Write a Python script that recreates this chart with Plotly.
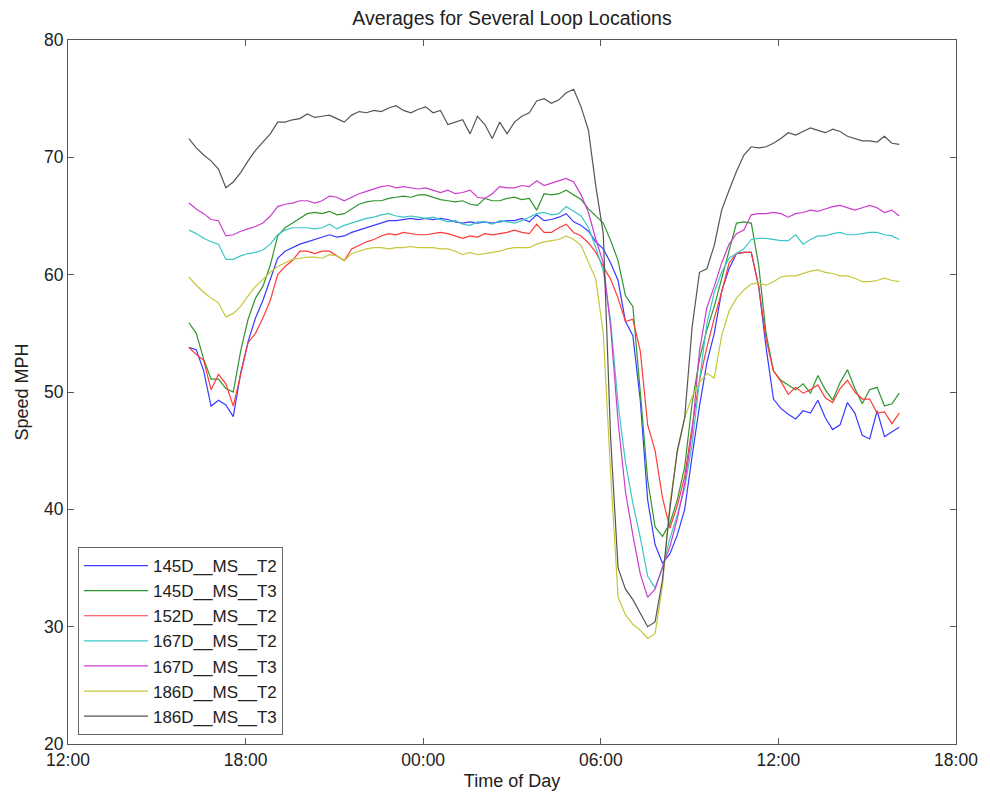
import pandas as pd
import plotly.graph_objects as go

# 15-minute samples starting 16:05 (day 1) through 16:05 (day 2)
times = pd.date_range("2000-01-01 16:05", periods=97, freq="15min")

series_names = ["145D__MS__T2", "145D__MS__T3", "152D__MS__T2", "167D__MS__T2",
                "167D__MS__T3", "186D__MS__T2", "186D__MS__T3"]

s145_T2 = [
    53.8, 53.6, 51.8, 48.8, 49.3, 48.9, 47.9, 51.6, 54.3, 56.3,
    57.8, 59.7, 61.4, 62.0, 62.3, 62.6, 62.8, 63.0, 63.2, 63.4,
    63.2, 63.3, 63.6, 63.8, 64.0, 64.2, 64.4, 64.6, 64.6, 64.7,
    64.8, 64.7, 64.8, 64.7, 64.8, 64.7, 64.5, 64.4, 64.5, 64.4,
    64.5, 64.4, 64.5, 64.6, 64.6, 64.8, 64.5, 65.1, 64.6, 64.7,
    64.9, 65.2, 64.5, 64.2, 63.7, 62.8, 62.2, 61.0, 59.5, 56.0,
    54.8, 49.3, 40.8, 37.0, 35.4, 36.2, 37.8, 40.0, 44.5, 48.8,
    52.5, 55.0, 58.6, 60.5, 61.8, 61.9, 61.9, 59.0, 53.8, 49.4,
    48.6, 48.1, 47.7, 48.4, 48.2, 49.3, 47.8, 46.8, 47.2, 49.1,
    48.2, 46.3, 46.0, 48.4, 46.2, 46.6, 47.0]

s145_T3 = [
    55.9, 55.0, 52.8, 51.1, 51.1, 50.3, 50.0, 53.5, 56.2, 58.0,
    59.0, 60.8, 63.3, 64.0, 64.4, 64.8, 65.2, 65.3, 65.2, 65.4,
    65.1, 65.2, 65.6, 66.0, 66.2, 66.3, 66.3, 66.5, 66.6, 66.7,
    66.6, 66.8, 66.8, 66.6, 66.4, 66.3, 66.2, 66.3, 66.0, 65.9,
    66.5, 66.3, 66.3, 66.5, 66.6, 66.4, 66.5, 65.5, 66.9, 66.8,
    66.9, 67.2, 66.8, 66.4, 65.6, 65.0, 64.4, 62.9, 61.2, 58.2,
    57.3, 50.0, 42.5, 38.5, 37.7, 38.8, 40.8, 43.6, 49.0, 52.8,
    55.3, 57.3, 59.7, 62.0, 64.4, 64.5, 64.4, 60.8, 55.0, 51.8,
    51.0, 50.6, 50.2, 50.7, 49.9, 51.4, 50.2, 49.3, 50.8, 51.9,
    50.3, 49.0, 50.2, 50.4, 48.8, 49.0, 49.9]

s152_T2 = [
    53.8, 53.2, 52.7, 50.2, 51.5, 50.7, 48.8, 51.6, 54.2, 55.0,
    56.3, 57.8, 60.0, 60.7, 61.2, 62.0, 62.0, 61.8, 62.0, 62.0,
    61.6, 61.2, 62.2, 62.5, 62.8, 63.0, 63.3, 63.5, 63.4, 63.6,
    63.5, 63.4, 63.4, 63.5, 63.6, 63.5, 63.3, 63.1, 63.3, 63.2,
    63.5, 63.4, 63.5, 63.6, 63.8, 63.6, 63.5, 64.3, 63.6, 63.6,
    64.0, 64.3, 63.6, 63.3, 62.7, 61.9, 60.7, 59.6, 58.0, 56.0,
    56.2, 53.5, 47.2, 45.0, 41.0, 38.4, 40.3, 42.8, 47.0, 51.0,
    53.8, 56.3, 58.5, 61.0, 61.8, 61.9, 61.9, 59.0, 54.5, 51.8,
    50.9, 49.8, 50.4, 49.9, 50.2, 50.6, 49.5, 49.1, 50.3, 51.0,
    50.0, 49.4, 49.4, 48.2, 48.3, 47.3, 48.2]

s167_T2 = [
    63.8, 63.5, 63.1, 62.8, 62.6, 61.3, 61.3, 61.6, 61.8, 61.9,
    62.1, 62.6, 63.4, 63.8, 64.0, 64.0, 64.0, 63.9, 64.0, 64.3,
    63.9, 64.2, 64.4, 64.6, 64.8, 64.9, 65.1, 65.2, 65.0, 64.9,
    65.0, 64.9, 64.8, 64.9, 64.7, 64.5, 64.6, 64.3, 64.2, 64.5,
    64.5, 64.3, 64.6, 64.5, 64.4, 64.6, 64.9, 65.2, 65.3, 65.1,
    65.2, 65.8, 65.4, 65.0, 64.0, 62.3, 60.3, 56.0, 49.0, 44.0,
    40.5, 37.6, 34.3, 33.3, 35.0, 37.5, 39.5, 41.8, 45.5, 51.0,
    55.8, 58.5, 60.2, 61.4, 61.8, 62.2, 63.0, 63.1, 63.1, 63.0,
    62.9, 62.9, 63.4, 62.6, 63.0, 63.3, 63.3, 63.5, 63.6, 63.4,
    63.4, 63.5, 63.6, 63.6, 63.4, 63.3, 63.0]

s167_T3 = [
    66.1, 65.6, 65.2, 64.7, 64.6, 63.3, 63.4, 63.7, 63.9, 64.1,
    64.4, 65.0, 65.8, 66.0, 66.1, 66.3, 66.3, 66.1, 66.3, 66.7,
    66.6, 66.3, 66.6, 66.9, 67.1, 67.3, 67.5, 67.6, 67.4, 67.5,
    67.4, 67.3, 67.4, 67.2, 67.0, 67.2, 66.9, 67.0, 67.2, 66.6,
    66.5, 66.9, 67.5, 67.4, 67.4, 67.6, 67.5, 68.0, 67.6, 67.8,
    68.0, 68.2, 67.9, 66.8, 65.3, 63.0, 61.0, 55.5, 47.5, 41.5,
    37.8, 34.5, 32.5, 33.2, 35.1, 36.8, 39.2, 42.2, 46.5, 53.5,
    57.2, 59.0, 61.0, 62.6, 63.5, 63.8, 65.1, 65.2, 65.2, 65.3,
    65.2, 64.9, 65.2, 65.3, 65.5, 65.4, 65.6, 65.8, 65.9, 65.7,
    65.5, 65.7, 65.9, 65.7, 65.3, 65.5, 65.0]

s186_T2 = [
    59.8, 59.1, 58.5, 58.0, 57.6, 56.4, 56.7, 57.3, 58.2, 59.0,
    59.6, 60.2, 60.7, 61.0, 61.3, 61.4, 61.5, 61.5, 61.4, 61.7,
    61.6, 61.2, 61.8, 62.0, 62.2, 62.3, 62.3, 62.2, 62.3, 62.3,
    62.4, 62.3, 62.3, 62.3, 62.2, 62.2, 62.0, 61.7, 61.9, 61.7,
    61.8, 61.9, 62.0, 62.2, 62.3, 62.3, 62.3, 62.6, 62.8, 62.9,
    63.0, 63.3, 63.0, 62.5, 61.0, 59.6, 55.0, 43.0, 32.5, 31.0,
    30.2, 29.7, 29.0, 29.4, 33.5, 40.5, 44.8, 47.8, 49.6, 50.8,
    51.6, 51.2, 54.8, 56.9, 58.0, 58.7, 59.2, 59.3, 59.1, 59.4,
    59.8, 59.9, 59.9, 60.1, 60.3, 60.4, 60.2, 60.1, 59.9, 59.9,
    59.7, 59.4, 59.4, 59.5, 59.7, 59.5, 59.4]

s186_T3 = [
    71.6, 70.8, 70.2, 69.7, 69.0, 67.4, 67.9, 68.7, 69.7, 70.6,
    71.3, 72.0, 73.0, 73.0, 73.2, 73.3, 73.7, 73.4, 73.5, 73.6,
    73.3, 73.0, 73.6, 73.9, 73.8, 74.0, 73.9, 74.2, 74.4, 74.0,
    73.8, 74.1, 74.3, 73.8, 74.0, 72.8, 73.0, 73.2, 72.0, 73.5,
    72.8, 71.6, 73.0, 72.0, 73.0, 73.5, 73.8, 74.8, 75.0, 74.6,
    74.9, 75.5, 75.8, 74.3, 72.3, 67.5, 63.5, 46.0, 35.0, 33.2,
    32.3, 31.2, 30.0, 30.4, 34.0, 40.0, 45.0, 47.8, 55.5, 60.2,
    60.5, 62.5, 65.5, 67.2, 68.8, 70.2, 70.9, 70.8, 70.9, 71.2,
    71.6, 72.1, 71.9, 72.2, 72.5, 72.3, 72.1, 72.4, 72.2, 71.8,
    71.6, 71.4, 71.4, 71.3, 71.8, 71.2, 71.1]

series_values = [s145_T2, s145_T3, s152_T2, s167_T2, s167_T3, s186_T2, s186_T3]
series_colors = ["#3a3aff", "#2f952f", "#ff3a3a", "#3cc6c6", "#cc3ccc", "#c6c63a", "#555555"]

y_ticks = [20, 30, 40, 50, 60, 70, 80]

FONT = "Liberation Sans, Arial, Helvetica, sans-serif"
W, H = 982, 793  # page body adds an 8px offset

fig = go.Figure()
for name, vals, col in zip(series_names, series_values, series_colors):
    fig.add_trace(go.Scatter(x=times, y=vals, mode="lines", name=name,
                             line=dict(color=col, width=1.2)))

fig.update_layout(
    width=W, height=H,
    margin=dict(l=60, r=30, t=32, b=57),
    paper_bgcolor="white", plot_bgcolor="white",
    font=dict(family=FONT, size=18, color="#222"),
    title=dict(text="Averages for Several Loop Locations", x=0.5, xref="paper",
               y=1 - 10 / H, yref="container", yanchor="middle",
               font=dict(size=19.5, family=FONT, color="#222")),
    showlegend=True,
    legend=dict(x=0.0112, y=0.0128, xanchor="left", yanchor="bottom",
                bgcolor="white", bordercolor="#666", borderwidth=1,
                font=dict(size=17, family=FONT, color="#222"),
                itemwidth=64, tracegroupgap=0),
)

fig.update_xaxes(
    type="date",
    range=["2000-01-01 12:00", "2000-01-02 18:00"],
    tick0="2000-01-01 12:00", dtick=6 * 3600 * 1000, tickformat="%H:%M",
    ticks="inside", ticklen=6, tickcolor="#555", mirror="ticks",
    showline=True, linecolor="#555", linewidth=1, showgrid=False, zeroline=False,
    title=dict(text="Time of Day", font=dict(size=18, family=FONT, color="#222"), standoff=5),
    tickfont=dict(size=17.5, family=FONT, color="#222"),
)
fig.update_yaxes(
    range=[20, 80], tickvals=y_ticks, ticktext=[str(v) for v in y_ticks],
    ticks="inside", ticklen=6, tickcolor="#555", mirror="ticks",
    showline=True, linecolor="#555", linewidth=1, showgrid=False, zeroline=False,
    title=dict(text="Speed MPH", font=dict(size=18, family=FONT, color="#222"), standoff=10),
    tickfont=dict(size=17.5, family=FONT, color="#222"),
)

fig.write_html("out.html")
